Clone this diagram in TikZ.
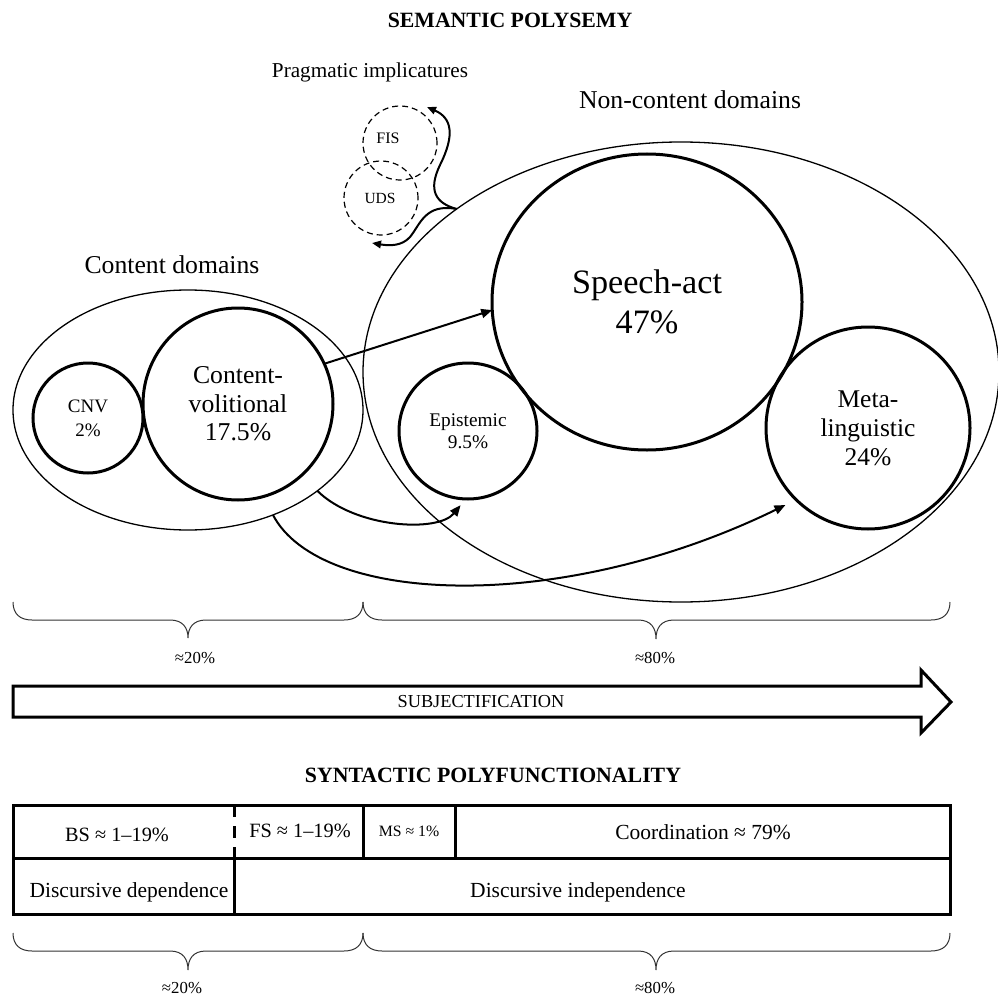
\documentclass[tikz,border=0pt]{standalone}
\usepackage{fontspec}
\setmainfont{Liberation Serif}
\usetikzlibrary{arrows.meta,shapes.geometric}
\newcommand\setfs[2]{\fontsize{#1}{#2}\selectfont}

\begin{document}
\begin{tikzpicture}[x=1pt,y=-1pt,
  domainoval/.style={draw, ellipse, line width=1.3pt, inner sep=0pt, outer sep=0pt},
  ring/.style={draw, ellipse, line width=3pt, inner sep=0pt, outer sep=0pt, align=center},
  dashring/.style={draw, circle, line width=1.2pt, dash pattern=on 6pt off 4pt, minimum size=74pt, inner sep=0pt, outer sep=0pt},
  arr/.style={line width=2pt, -{Triangle[length=11pt,width=9pt]}},
  smallarr/.style={line width=2pt, -{Triangle[length=9pt,width=7.5pt]}},
  brace/.style={line width=1pt, draw=black!80},
  lbl/.style={inner sep=0pt, outer sep=0pt, anchor=base},
  grid/.style={line width=3pt},
]
\useasboundingbox (0,0) rectangle (998,995);

% ---------- semantic polysemy ----------
\node[lbl, font=\bfseries\setfs{21.8}{24}] (semtitle) at (510,28) {SEMANTIC POLYSEMY};
\node[lbl, font=\setfs{21.2}{24}] (pragtitle) at (370,78) {Pragmatic implicatures};
\node[lbl, font=\setfs{25.7}{28}] (nctitle) at (690,109) {Non-content domains};
\node[lbl, font=\setfs{25.7}{28}] (ctitle) at (172,273) {Content domains};

% domain ellipses
\node[domainoval, minimum width=636pt, minimum height=460pt] (noncontent) at (681,372) {};
\node[domainoval, minimum width=350pt, minimum height=240pt] (content) at (188,410) {};

% pragmatic implicatures
\node[dashring] (fis) at (400,143) {};
\node[dashring] (uds) at (381,198) {};
\node[lbl, font=\setfs{16}{18}] (fislbl) at (388,144) {FIS};
\node[lbl, font=\setfs{15.5}{18}] (udslbl) at (380,204) {UDS};

% meaning types
\node[ring, minimum width=110pt, minimum height=110pt, font=\setfs{19}{24}] (cnv) at (88,418) {CNV\\2\%};
\node[ring, minimum width=190pt, minimum height=192pt, font=\setfs{25.7}{28.5}] (cv) at (238,404) {Content-\\volitional\\17.5\%};
\node[ring, minimum width=310pt, minimum height=296pt, font=\setfs{34.2}{40}] (speech) at (647,302) {Speech-act\\47\%};
\node[ring, minimum width=138pt, minimum height=136pt, font=\setfs{19.3}{22}] (epi) at (468,431) {Epistemic\\9.5\%};
\node[ring, minimum width=204pt, minimum height=202pt, font=\setfs{25.5}{29}] (meta) at (868,428) {Meta-\\linguistic\\24\%};

% extensions of meaning
\draw[arr] (cv.25) -- (speech.183);
\draw[arr, shorten >=8pt] (content.-32) .. controls (355,528) and (438,533) .. (epi.-92);
\draw[arr, shorten >=12pt] (content.-51.6) .. controls (320,605) and (560,615) .. (meta.225);

\coordinate (fisend) at (427,107);
\coordinate (udsend) at (372,243);
\draw[smallarr] (noncontent.144) .. controls (435,203) and (428,190) .. (440,165)
  .. controls (455,135) and (452,118) .. (fisend);
\draw[smallarr] (noncontent.144) .. controls (425,203) and (420,225) .. (410,237)
  .. controls (402,246) and (390,246) .. (udsend);

% upper braces
\draw[brace] (13,602) .. controls (13,614) and (20,620) .. (32,620) -- (170,620)
  .. controls (183,620) and (188,628) .. (188,638) .. controls (188,628) and (193,620) .. (206,620)
  -- (344,620) .. controls (356,620) and (363,614) .. (363,602);
\draw[brace] (363,602) .. controls (363,614) and (370,620) .. (382,620) -- (638,620)
  .. controls (651,620) and (656,628) .. (656,639) .. controls (656,628) and (661,620) .. (674,620)
  -- (931,620) .. controls (943,620) and (950,614) .. (950,602);
\node[lbl, font=\setfs{16.8}{18}] (upct) at (195,663) {≈20\%};
\node[lbl, font=\setfs{16.8}{18}] (upnc) at (655,663) {≈80\%};

% subjectification arrow
\draw[line width=3pt, line join=miter] (13,686) -- (921,686) -- (921,670) -- (951,702)
  -- (921,733) -- (921,717) -- (13,717) -- cycle;
\node[lbl, font=\setfs{18.3}{20}] (subj) at (481,707) {SUBJECTIFICATION};

% ---------- syntactic polyfunctionality ----------
\node[lbl, font=\bfseries\setfs{21.8}{24}] (syntitle) at (493,782) {SYNTACTIC POLYFUNCTIONALITY};

\draw[grid] (13,805) rectangle (950,914);
\draw[grid] (13,858) -- (950,858);
\draw[grid, dash pattern=on 12pt off 9pt] (234,805) -- (234,858);
\draw[grid] (363,805) -- (363,858);
\draw[grid] (455,805) -- (455,858);
\draw[grid] (234,858) -- (234,914);

\node[lbl, font=\setfs{20.3}{22}] (bs) at (117,841) {BS ≈ 1–19\%};
\node[lbl, font=\setfs{20.3}{22}] (fs) at (300,837) {FS ≈ 1–19\%};
\node[lbl, font=\setfs{15.8}{18}] (ms) at (409,836) {MS ≈ 1\%};
\node[lbl, font=\setfs{21.5}{24}] (coord) at (703,839) {Coordination ≈ 79\%};
\node[lbl, font=\setfs{21.5}{24}] (ddep) at (129,897) {Discursive dependence};
\node[lbl, font=\setfs{21.5}{24}] (dind) at (578,897) {Discursive independence};

% lower braces
\draw[brace] (13,933) .. controls (13,945) and (20,951) .. (32,951) -- (170,951)
  .. controls (183,951) and (188,959) .. (188,970) .. controls (188,959) and (193,951) .. (206,951)
  -- (344,951) .. controls (356,951) and (363,945) .. (363,933);
\draw[brace] (363,933) .. controls (363,945) and (370,951) .. (382,951) -- (638,951)
  .. controls (651,951) and (656,959) .. (656,970) .. controls (656,959) and (661,951) .. (674,951)
  -- (931,951) .. controls (943,951) and (950,945) .. (950,933);
\node[lbl, font=\setfs{16.8}{18}] (lowct) at (182,993) {≈20\%};
\node[lbl, font=\setfs{16.8}{18}] (lownc) at (655,993) {≈80\%};
\end{tikzpicture}
\end{document}
